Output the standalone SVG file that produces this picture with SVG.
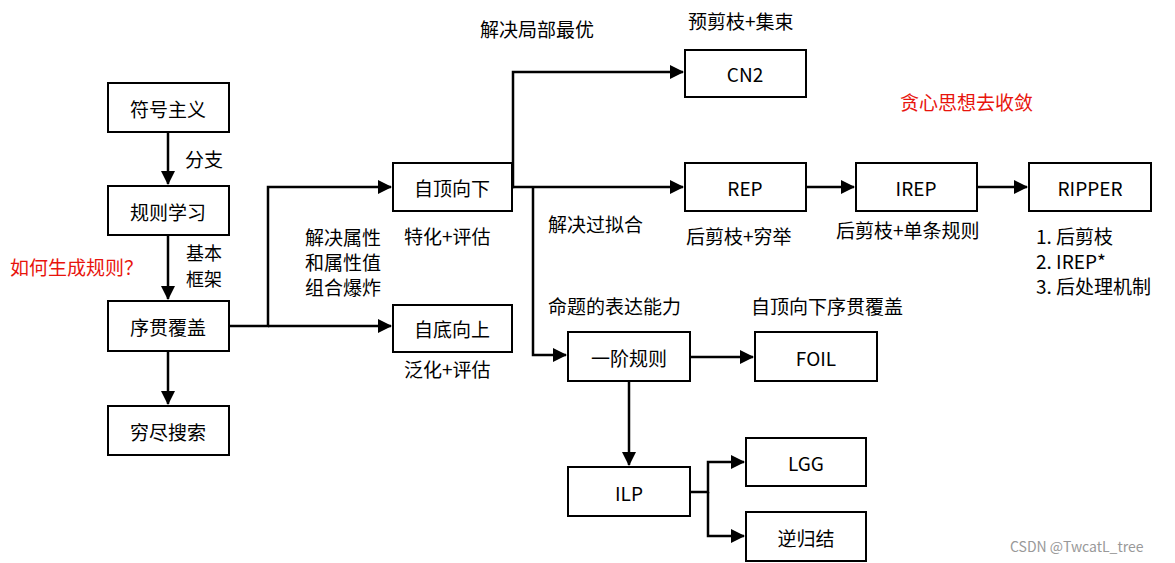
<svg xmlns="http://www.w3.org/2000/svg" width="1175" height="563" viewBox="0 0 1175 563">
<style>
.b{fill:#fff;stroke:#000;stroke-width:2}
.t{font-family:"Noto Sans CJK SC","Liberation Sans",sans-serif;font-size:19px;fill:#000}
.c{text-anchor:middle;dominant-baseline:central}
.r{fill:#e8140c}
.l{fill:none;stroke:#000;stroke-width:2.5}
</style>
<defs><marker id="a" markerWidth="14" markerHeight="14" refX="13" refY="7" orient="auto" markerUnits="userSpaceOnUse" viewBox="0 0 14 14"><path d="M0,0L14,7L0,14z"/></marker></defs>
<rect width="1175" height="563" fill="#fff"/>
<g id="connectors">
<path class="l" d="M168,132V184" marker-end="url(#a)"/>
<path class="l" d="M168,235V299" marker-end="url(#a)"/>
<path class="l" d="M168,351V404" marker-end="url(#a)"/>
<path class="l" d="M229,326H268V187H391" marker-end="url(#a)"/>
<path class="l" d="M268,326H391" marker-end="url(#a)"/>
<path class="l" d="M512,187H513V72H683" marker-end="url(#a)"/>
<path class="l" d="M512,187H683" marker-end="url(#a)"/>
<path class="l" d="M533,187V355H566" marker-end="url(#a)"/>
<path class="l" d="M806,187H854" marker-end="url(#a)"/>
<path class="l" d="M977,187H1027" marker-end="url(#a)"/>
<path class="l" d="M690,357H753" marker-end="url(#a)"/>
<path class="l" d="M629,381V465" marker-end="url(#a)"/>
<path class="l" d="M690,492H708V462H744" marker-end="url(#a)"/>
<path class="l" d="M708,492V536H744" marker-end="url(#a)"/>
</g>
<g id="n1"><rect class="b" x="108" y="83" width="121" height="49"/><text class="t c" x="168" y="108">符号主义</text></g>
<g id="n2"><rect class="b" x="108" y="186" width="121" height="49"/><text class="t c" x="168" y="211">规则学习</text></g>
<g id="n3"><rect class="b" x="108" y="301" width="121" height="50"/><text class="t c" x="168" y="326">序贯覆盖</text></g>
<g id="n4"><rect class="b" x="108" y="406" width="121" height="49"/><text class="t c" x="168" y="431">穷尽搜索</text></g>
<g id="n5"><rect class="b" x="393" y="163" width="119" height="48"/><text class="t c" x="452" y="187">自顶向下</text></g>
<g id="n6"><rect class="b" x="393" y="305" width="119" height="47"/><text class="t c" x="452" y="328">自底向上</text></g>
<g id="n7"><rect class="b" x="685" y="50" width="121" height="47"/><text class="t c" x="745" y="73">CN2</text></g>
<g id="n8"><rect class="b" x="685" y="163" width="121" height="48"/><text class="t c" x="745" y="187">REP</text></g>
<g id="n9"><rect class="b" x="856" y="163" width="121" height="48"/><text class="t c" x="916" y="187">IREP</text></g>
<g id="n10"><rect class="b" x="1029" y="163" width="122" height="48"/><text class="t c" x="1090" y="187">RIPPER</text></g>
<g id="n11"><rect class="b" x="568" y="332" width="122" height="49"/><text class="t c" x="629" y="357">一阶规则</text></g>
<g id="n12"><rect class="b" x="755" y="332" width="122" height="49"/><text class="t c" x="816" y="357">FOIL</text></g>
<g id="n13"><rect class="b" x="568" y="467" width="122" height="49"/><text class="t c" x="629" y="492">ILP</text></g>
<g id="n14"><rect class="b" x="746" y="438" width="120" height="48"/><text class="t c" x="806" y="462">LGG</text></g>
<g id="n15"><rect class="b" x="746" y="512" width="120" height="49"/><text class="t c" x="806" y="537">逆归结</text></g>
<g id="labels" class="t">
<text x="185" y="167">分支</text>
<text x="186" y="260" style="font-size:18px">基本</text>
<text x="186" y="286" style="font-size:18px">框架</text>
<text class="r" x="10" y="275">如何生成规则？</text>
<text x="305" y="245">解决属性</text>
<text x="305" y="270">和属性值</text>
<text x="305" y="295">组合爆炸</text>
<text x="404" y="244">特化+评估</text>
<text x="404" y="377">泛化+评估</text>
<text x="480" y="37">解决局部最优</text>
<text x="688" y="29">预剪枝+集束</text>
<text class="r" x="900" y="110">贪心思想去收敛</text>
<text x="548" y="232">解决过拟合</text>
<text x="686" y="244">后剪枝+穷举</text>
<text x="836" y="238">后剪枝+单条规则</text>
<text x="1036" y="244">1. 后剪枝</text>
<text x="1036" y="269">2. IREP*</text>
<text x="1036" y="294">3. 后处理机制</text>
<text x="548" y="314">命题的表达能力</text>
<text x="751" y="314">自顶向下序贯覆盖</text>
<text x="1010" y="552" style="font-size:14px;fill:#999">CSDN @TwcatL_tree</text>
</g>
</svg>
